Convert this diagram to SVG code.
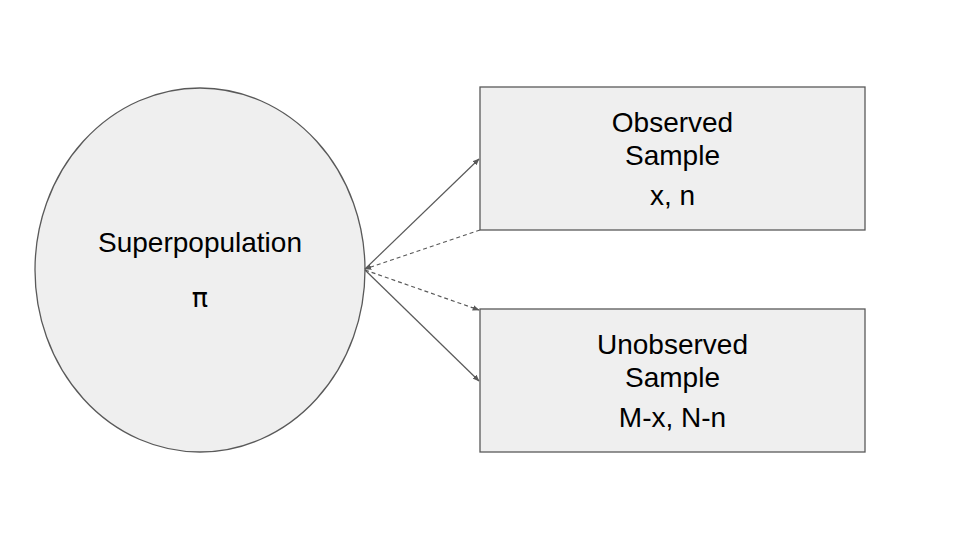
<svg xmlns="http://www.w3.org/2000/svg" width="960" height="540" viewBox="0 0 960 540">
<style>
.shape{fill:#efefef;stroke:#595959;stroke-width:1.3}
.t{font-family:"Liberation Sans",Arial,sans-serif;font-size:28px;fill:#000;text-anchor:middle}
.c{stroke:#595959;stroke-width:1.2;fill:none}
.d{stroke-dasharray:4,3}
</style>
<defs>
<marker id="ah" viewBox="0 0 10 10" refX="9" refY="5" markerWidth="7" markerHeight="7" markerUnits="userSpaceOnUse" orient="auto">
<path d="M0,1 L10,5 L0,9 z" fill="#595959"/>
</marker>
</defs>
<rect width="960" height="540" fill="#fff"/>
<g id="superpopulation">
<ellipse class="shape" cx="200" cy="270" rx="165" ry="182"/>
<text class="t" x="200" y="252">Superpopulation</text>
<text class="t" x="200" y="307" style="font-family:'DejaVu Sans','Liberation Sans',sans-serif;font-size:27px">π</text>
</g>
<g id="observed">
<rect class="shape" x="480" y="87" width="385" height="143"/>
<text class="t" x="672.5" y="132">Observed</text>
<text class="t" x="672.5" y="165">Sample</text>
<text class="t" x="672.5" y="205">x, n</text>
</g>
<g id="unobserved">
<rect class="shape" x="480" y="309" width="385" height="143"/>
<text class="t" x="672.5" y="354">Unobserved</text>
<text class="t" x="672.5" y="387">Sample</text>
<text class="t" x="672.5" y="427">M-x, N-n</text>
</g>
<g id="connectors">
<line class="c" x1="365" y1="269" x2="479" y2="159" marker-end="url(#ah)"/>
<line class="c d" x1="480" y1="230" x2="365" y2="269" marker-end="url(#ah)"/>
<line class="c d" x1="365" y1="270" x2="479" y2="310" marker-end="url(#ah)"/>
<line class="c" x1="365" y1="270" x2="479" y2="381" marker-end="url(#ah)"/>
</g>
</svg>
